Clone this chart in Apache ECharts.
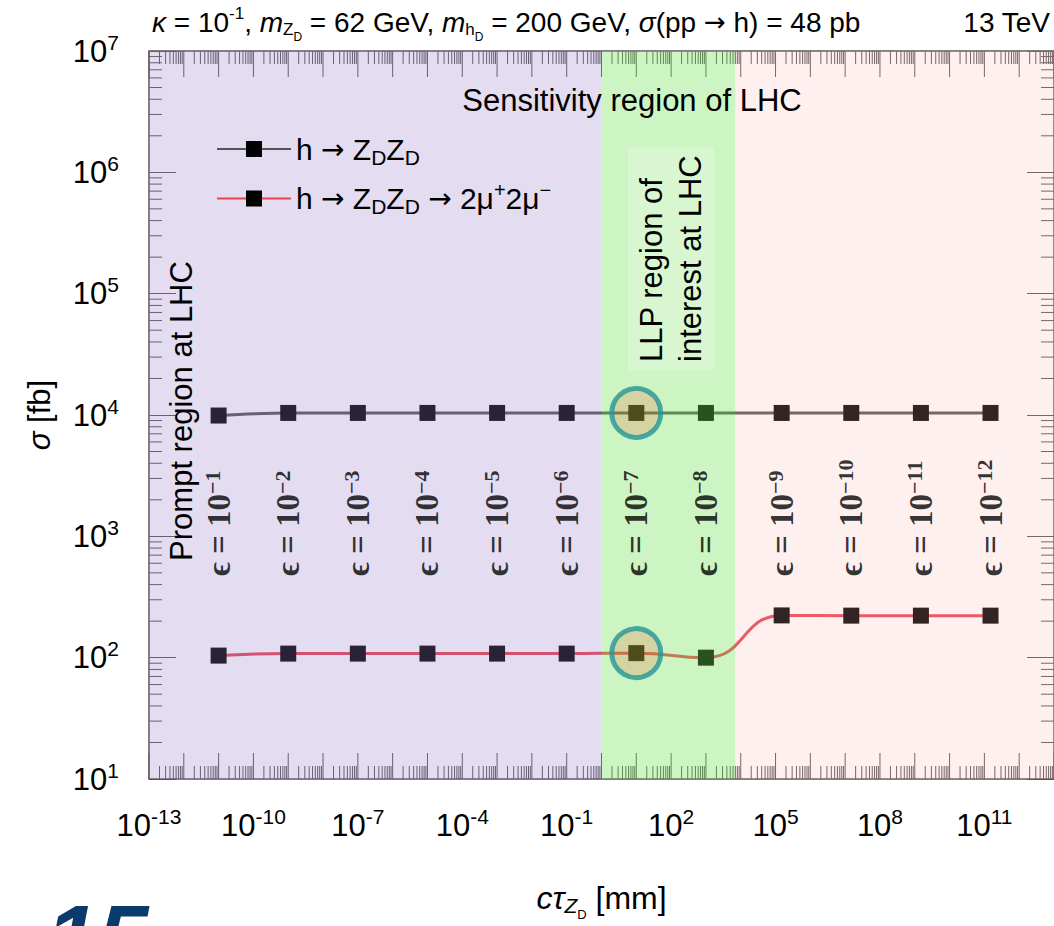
<!DOCTYPE html>
<html>
<head>
<meta charset="utf-8">
<script src="https://cdn.jsdelivr.net/npm/echarts@6/dist/echarts.min.js"></script>
<style>
html,body{margin:0;padding:0;background:#fff;}
#c{width:1054px;height:926px;}
</style>
</head>
<body>
<div id="c"></div>
<script>
// ---------------- data ----------------
const cTau = [1e-11, 1e-9, 1e-7, 1e-5, 1e-3, 1e-1, 1e1, 1e3, 1.5e5, 1.5e7, 1.5e9, 1.5e11];
const sigmaZDZD = [9.9e3, 1.04e4, 1.04e4, 1.04e4, 1.04e4, 1.04e4, 1.04e4, 1.04e4, 1.04e4, 1.04e4, 1.04e4, 1.04e4];
const sigma4mu = [104, 108, 108, 108, 108, 108, 109, 100, 223, 222, 222, 222];
const epsExponents = [-1, -2, -3, -4, -5, -6, -7, -8, -9, -10, -11, -12];
const highlightIndex = 6;
const xLabelExponents = [-13, -10, -7, -4, -1, 2, 5, 8, 11];
const yLabelExponents = [1, 2, 3, 4, 5, 6, 7];
const regionBounds = [1e-13, 1, 7e3, 1e13];
const seriesNames = ['h → ZDZD', 'h → ZDZD → 2μ+2μ−'];

// ---------------- styling helpers ----------------
const FONT = "'Liberation Sans', Arial, Helvetica, sans-serif";
const ARROWFONT = "'DejaVu Sans', 'Noto Sans', sans-serif";
const SERIF = "'Liberation Serif', 'DejaVu Serif', 'Times New Roman', serif";
const X_MIN = 1e-13, X_MAX = 1e13, Y_MIN = 10, Y_MAX = 1e7;
const EPS_LABEL_Y = 470;
const REGION_FILLS = ['rgba(156,126,200,0.27)', 'rgba(117,228,89,0.36)', 'rgba(255,180,180,0.2)'];
const TICK_COLOR = '#555';

const supRich = {
  b: {fontFamily: FONT, fontSize: 31, color: '#000'},
  s: {fontFamily: FONT, fontSize: 21, color: '#000', padding: [0, 0, 18, 0]}
};
function powLabel(e) { return '{b|10}{s|' + e + '}'; }

// minor / major tick positions (axis structure)
const xTickValues = [];
for (let e = -13; e < 13; e++) {
  xTickValues.push([Math.pow(10, e), 1000, 1]);
  for (let m = 2; m <= 9; m++) xTickValues.push([m * Math.pow(10, e), 1000, 0]);
}
xTickValues.push([Math.pow(10, 13), 1000, 1]);
const yMinorValues = [];
for (let e = 1; e < 7; e++) {
  for (let m = 2; m <= 9; m++) yMinorValues.push([1, m * Math.pow(10, e)]);
}

const chart = echarts.init(document.getElementById('c'), null, {renderer: 'svg', width: 1054, height: 926});

const titleRich = {
  i: {fontFamily: FONT, fontSize: 28, fontStyle: 'italic', color: '#000'},
  t: {fontFamily: FONT, fontSize: 28, color: '#000'},
  a: {fontFamily: ARROWFONT, fontSize: 26, color: '#000'},
  sup: {fontFamily: FONT, fontSize: 17, color: '#000', padding: [0, 0, 18, 0]},
  sub: {fontFamily: FONT, fontSize: 17, color: '#000', padding: [14, 0, 0, 0]},
  ss: {fontFamily: FONT, fontSize: 12, color: '#000', padding: [30, 0, 0, 0]}
};

const legendRich = {
  t: {fontFamily: FONT, fontSize: 30, color: '#000'},
  a: {fontFamily: ARROWFONT, fontSize: 28, color: '#000'},
  sub: {fontFamily: FONT, fontSize: 21, color: '#000', padding: [16, 0, 0, 0]},
  sup: {fontFamily: FONT, fontSize: 20, color: '#000', padding: [0, 0, 18, 0]}
};
const legendLabels = {};
legendLabels[seriesNames[0]] = '{t|h }{a|→}{t| Z}{sub|D}{t|Z}{sub|D}';
legendLabels[seriesNames[1]] = '{t|h }{a|→}{t| Z}{sub|D}{t|Z}{sub|D}{t| }{a|→}{t| 2μ}{sup|+}{t|2μ}{sup|−}';

const option = {
  animation: false,
  grid: {left: 149, right: -1, top: 51, bottom: 143, show: true, borderColor: '#555', borderWidth: 1.5, backgroundColor: 'transparent'},
  legend: {
    orient: 'vertical', left: 211, top: 129, itemWidth: 74, itemHeight: 20, itemGap: 12, z: 30,
    data: seriesNames,
    formatter: name => legendLabels[name],
    textStyle: {fontFamily: FONT, fontSize: 30, color: '#000', rich: legendRich}
  },
  xAxis: [{
    type: 'log', min: X_MIN, max: X_MAX, position: 'bottom',
    axisLine: {show: false}, axisTick: {show: false}, axisLabel: {show: false}, splitLine: {show: false},
    name: '{i|cτ}{sub|Z}{ss|D}{t| [mm]}', nameLocation: 'middle', nameGap: 95,
    nameTextStyle: {
      rich: {
        i: {fontFamily: FONT, fontSize: 32, fontStyle: 'italic', color: '#000'},
        t: {fontFamily: FONT, fontSize: 32, color: '#000'},
        sub: {fontFamily: FONT, fontSize: 21, fontStyle: 'italic', color: '#000', padding: [16, 0, 0, 0]},
        ss: {fontFamily: FONT, fontSize: 13, color: '#000', padding: [34, 0, 0, 0]}
      }
    }
  }],
  yAxis: [{
    type: 'log', min: Y_MIN, max: Y_MAX, interval: 1, position: 'left',
    axisLine: {show: false}, splitLine: {show: false},
    axisTick: {show: true, inside: true, length: 27, lineStyle: {color: TICK_COLOR, width: 1}},
    axisLabel: {
      margin: 30,
      formatter: v => { const e = Math.round(Math.log10(v)); return yLabelExponents.indexOf(e) >= 0 ? powLabel(e) : ''; },
      rich: supRich
    },
    name: '{i|σ}{t| [fb]}', nameLocation: 'middle', nameGap: 94,
    nameTextStyle: {
      rich: {
        i: {fontFamily: FONT, fontSize: 31, fontStyle: 'italic', color: '#000'},
        t: {fontFamily: FONT, fontSize: 31, color: '#000'}
      }
    }
  }, {
    type: 'log', min: Y_MIN, max: Y_MAX, interval: 1, position: 'right',
    axisLine: {show: false}, splitLine: {show: false}, axisLabel: {show: false},
    axisTick: {show: true, inside: true, length: 27, lineStyle: {color: TICK_COLOR, width: 1}}
  }],
  series: [
    {
      name: 'xTicks', type: 'custom', silent: true, z: 1,
      data: xTickValues, encode: {x: 0, y: 1},
      renderItem: (params, api) => {
        const cs = params.coordSys;
        const x = api.coord([api.value(0), 1000])[0];
        const len = api.value(2) ? 26 : 13;
        const yb = cs.y + cs.height, yt = cs.y;
        return {type: 'group', children: [
          {type: 'line', shape: {x1: x, y1: yb, x2: x, y2: yb - len}, style: {stroke: TICK_COLOR, lineWidth: 1}},
          {type: 'line', shape: {x1: x, y1: yt, x2: x, y2: yt + len}, style: {stroke: TICK_COLOR, lineWidth: 1}}
        ]};
      }
    },
    {
      name: 'yMinorTicks', type: 'custom', silent: true, z: 1,
      data: yMinorValues, encode: {x: 0, y: 1},
      renderItem: (params, api) => {
        const cs = params.coordSys;
        const y = api.coord([1, api.value(1)])[1];
        const xl = cs.x, xr = cs.x + cs.width;
        return {type: 'group', children: [
          {type: 'line', shape: {x1: xl, y1: y, x2: xl + 13, y2: y}, style: {stroke: TICK_COLOR, lineWidth: 1}},
          {type: 'line', shape: {x1: xr, y1: y, x2: xr - 13, y2: y}, style: {stroke: TICK_COLOR, lineWidth: 1}}
        ]};
      }
    },
    {
      name: 'xLabels', type: 'custom', silent: true, z: 20,
      data: xLabelExponents.map(e => [Math.pow(10, e), 1000, e]), encode: {x: 0, y: 1},
      renderItem: (params, api) => {
        const cs = params.coordSys;
        const x = api.coord([api.value(0), 1000])[0];
        return {type: 'text', x: x, y: cs.y + cs.height + 27,
          style: {text: powLabel(api.value(2)), rich: supRich, align: 'center', verticalAlign: 'top', fill: '#000'}};
      }
    },
    {
      name: seriesNames[0], type: 'line', z: 3,
      data: cTau.map((x, i) => [x, sigmaZDZD[i]]),
      symbol: 'rect', symbolSize: 16, smooth: 0.3,
      lineStyle: {color: '#555', width: 3}, itemStyle: {color: '#000'}
    },
    {
      name: seriesNames[1], type: 'line', z: 3,
      data: cTau.map((x, i) => [x, sigma4mu[i]]),
      symbol: 'rect', symbolSize: 16, smooth: 0.5,
      lineStyle: {color: '#eb4150', width: 3}, itemStyle: {color: '#000'}
    },
    {
      name: 'regions', type: 'custom', silent: true, z: 10,
      data: [0, 1, 2].map(i => [regionBounds[i], regionBounds[i + 1], 1000]), encode: {x: [0, 1], y: 2},
      renderItem: (params, api) => {
        const cs = params.coordSys;
        const a = api.coord([api.value(0), 1000])[0];
        const b = api.coord([api.value(1), 1000])[0];
        return {type: 'rect', shape: {x: a, y: cs.y, width: b - a, height: cs.height},
          style: {fill: REGION_FILLS[params.dataIndex]}};
      }
    },
    {
      name: 'highlight', type: 'scatter', z: 12, silent: true,
      data: [[cTau[highlightIndex], sigmaZDZD[highlightIndex]], [cTau[highlightIndex], sigma4mu[highlightIndex]]],
      symbol: 'circle', symbolSize: 49,
      itemStyle: {color: 'rgba(250,63,9,0.22)', borderColor: '#239696', borderWidth: 5}
    },
    {
      name: 'epsLabels', type: 'scatter', z: 20, silent: true,
      data: cTau.map((x, i) => [x, EPS_LABEL_Y]),
      symbolSize: 2, itemStyle: {color: 'rgba(0,0,0,0)'},
      label: {
        show: true, position: 'inside', rotate: 90, align: 'left', verticalAlign: 'middle', color: '#000',
        formatter: p => '{e|ϵ}{t| = 10}{s|−' + Math.abs(epsExponents[p.dataIndex]) + '}',
        rich: {
          e: {fontFamily: SERIF, fontSize: 33, fontWeight: 'bold', color: '#000'},
          t: {fontFamily: SERIF, fontSize: 33, fontWeight: 'bold', color: '#000'},
          s: {fontFamily: SERIF, fontSize: 22, fontWeight: 'bold', color: '#000', padding: [0, 0, 12, 0]}
        }
      }
    }
  ],
  graphic: [
    {type: 'text', x: 152, y: 22, z: 30, style: {
      text: '{i|κ}{t| = 10}{sup|-1}{t|, }{i|m}{sub|Z}{ss|D}{t| = 62 GeV, }{i|m}{sub|h}{ss|D}{t| = 200 GeV, }{i|σ}{t|(pp }{a|→}{t| h) = 48 pb}',
      rich: titleRich, verticalAlign: 'middle', align: 'left', fill: '#000', fontFamily: FONT, fontSize: 28}},
    {type: 'text', x: 1050, y: 22, z: 30, style: {text: '13 TeV', align: 'right', verticalAlign: 'middle', fill: '#000', fontFamily: FONT, fontSize: 28}},
    {type: 'text', x: 632, y: 100, z: 30, style: {text: 'Sensitivity region of LHC', align: 'center', verticalAlign: 'middle', fill: '#000', fontFamily: FONT, fontSize: 31}},
    {type: 'text', x: 181, y: 411, z: 30, rotation: Math.PI / 2, style: {text: 'Prompt region at LHC', align: 'center', verticalAlign: 'middle', fill: '#000', fontFamily: FONT, fontSize: 31}},
    {type: 'text', x: 671, y: 370, z: 30, rotation: Math.PI / 2, style: {text: 'LLP region of\ninterest at LHC', align: 'left', verticalAlign: 'middle', fill: '#000', fontFamily: FONT, fontSize: 31, lineHeight: 39, backgroundColor: 'rgba(255,255,255,0.22)', padding: [4, 8]}},
    {type: 'text', x: 46, y: 892, z: 30, style: {text: '15', align: 'left', verticalAlign: 'top', fill: '#0b3a6c', fontFamily: FONT, fontSize: 92, fontWeight: 'bold', fontStyle: 'italic'}}
  ]
};
chart.setOption(option);
</script>
</body>
</html>
